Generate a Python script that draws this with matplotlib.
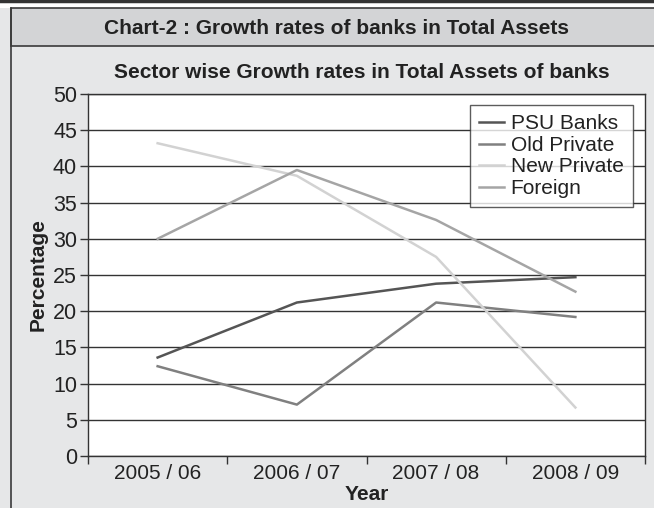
import matplotlib
matplotlib.use("Agg")
import matplotlib.pyplot as plt
from matplotlib.patches import Rectangle
from matplotlib.lines import Line2D

plt.rcParams['font.family'] = ['Liberation Sans', 'DejaVu Sans']

# growth rates in total assets (%), by sector
years = ["2005 / 06", "2006 / 07", "2007 / 08", "2008 / 09"]
psu = [13.6, 21.2, 23.8, 24.7]
old_private = [12.4, 7.1, 21.2, 19.2]
new_private = [43.2, 38.7, 27.5, 6.7]
foreign = [30.0, 39.5, 32.6, 22.7]

series = [
    ("PSU Banks", psu, "#555555"),
    ("Old Private", old_private, "#808080"),
    ("New Private", new_private, "#d2d2d2"),
    ("Foreign", foreign, "#a5a5a5"),
]

W, H = 654, 508
fig = plt.figure(figsize=(W / 100, H / 100), dpi=100, facecolor="#e6e7e8")

def px(x, y):
    return x / W, 1 - y / H

# top strip, outer frame and title band
fig.patches.append(Rectangle(px(0, 8), 1, 8 / H, transform=fig.transFigure,
                             facecolor="white", edgecolor="none", zorder=0))
fig.add_artist(Line2D([0, 1], [1 - 1.2 / H] * 2, transform=fig.transFigure,
                      color="#333333", lw=2.5))
fig.patches.append(Rectangle(px(11, 46), 1, 38 / H, transform=fig.transFigure,
                             facecolor="#d3d4d6", edgecolor="#3a3a3a", lw=1.2, zorder=1))
fig.add_artist(Line2D([11 / W] * 2, [0, 1 - 8 / H], transform=fig.transFigure,
                      color="#3a3a3a", lw=1.2))
fig.text(337 / W, 1 - 28 / H, "Chart-2 : Growth rates of banks in Total Assets",
         ha="center", va="center", fontsize=15, fontweight="bold", color="#222222")
fig.text(362 / W, 1 - 72 / H, "Sector wise Growth rates in Total Assets of banks",
         ha="center", va="center", fontsize=15, fontweight="bold", color="#222222")

ax = fig.add_axes([88 / W, 1 - 456 / H, 557 / W, 362 / H])
ax.set_facecolor("white")

x = list(range(len(years)))
for name, vals, col in series:
    ax.plot(x, vals, color=col, lw=1.8, label=name, zorder=3)

ax.set_xlim(-0.5, 3.5)
ax.set_ylim(0, 50)
ax.set_yticks(range(0, 51, 5))
ax.yaxis.grid(True, color="#333333", lw=1.0)
ax.set_axisbelow(True)
ax.set_xticks(x)
ax.set_xticklabels(years)
ax.set_xticks([-0.5, 0.5, 1.5, 2.5, 3.5], minor=True)
ax.tick_params(axis="x", which="major", length=0, pad=6, labelsize=15, colors="#222222")
ax.tick_params(axis="x", which="minor", length=6, width=1, color="#333333")
ax.tick_params(axis="y", length=6, width=1, color="#333333", labelsize=15.5,
               labelcolor="#222222", pad=2)
for s in ax.spines.values():
    s.set_color("#333333")
    s.set_linewidth(1.0)

ax.set_xlabel("Year", fontsize=15, fontweight="bold", labelpad=1, color="#222222")
ax.set_ylabel("Percentage", fontsize=15, fontweight="bold", labelpad=4, color="#222222")

leg = ax.legend(loc="upper left", bbox_to_anchor=px(470, 105),
                bbox_transform=fig.transFigure, frameon=True, fancybox=False,
                fontsize=15, handlelength=1.2, handletextpad=0.3,
                labelspacing=0.12, borderpad=0.45, borderaxespad=0)
leg.get_frame().set_edgecolor("#333333")
leg.get_frame().set_linewidth(1.0)
for t in leg.get_texts():
    t.set_color("#222222")

fig.savefig("out.png", dpi=100, facecolor=fig.get_facecolor())
